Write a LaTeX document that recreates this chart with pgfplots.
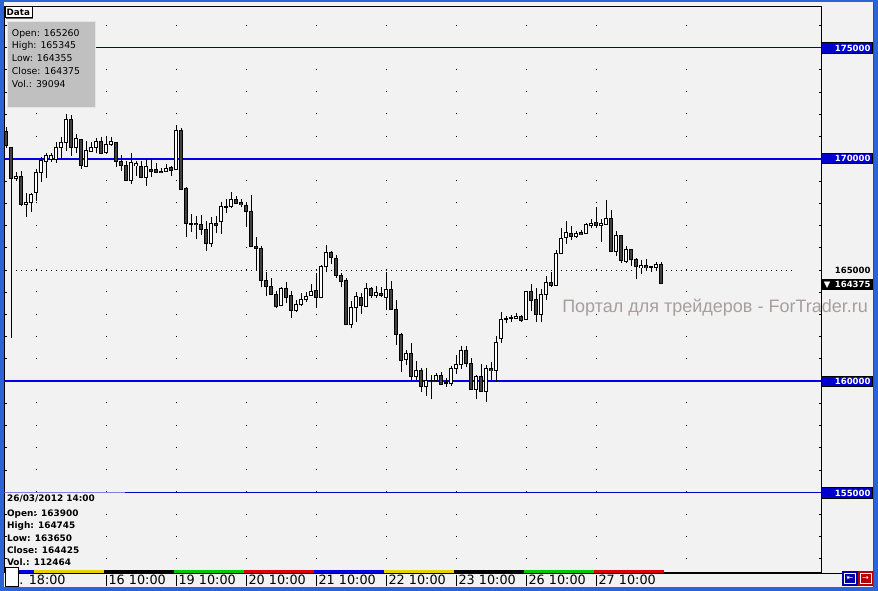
\documentclass[border=0pt]{standalone}
\usepackage{fontspec}
\setmainfont{DejaVu Sans}
\newfontfamily\lib{Liberation Sans}
\usepackage{pgfplots}
\usepackage{pgfplotstable}
\pgfplotsset{compat=1.18}
\definecolor{bg}{HTML}{F2F2F2}
\definecolor{frameblue}{HTML}{2C64D8}
\definecolor{lineblue}{HTML}{0000E6}
\definecolor{thinblue}{HTML}{0000C8}
\definecolor{navy}{HTML}{0000A0}
\definecolor{lightline}{HTML}{8080E0}
\definecolor{boxblue}{HTML}{0000CC}
\definecolor{infogray}{HTML}{C0C0C0}
\definecolor{darkbody}{HTML}{404040}
\definecolor{wm}{HTML}{A89E9E}
\definecolor{dblue}{HTML}{0000E0}
\definecolor{dyellow}{HTML}{E6D200}
\definecolor{dgreen}{HTML}{00C800}
\definecolor{dred}{HTML}{D80000}

\pgfplotstableread{
i O H L C
1 171250 171420 170475 170590
2 170520 170540 161940 169125
3 169105 169410 169015 169230
4 169215 169455 167880 167925
5 167935 168450 167370 168060
6 168045 168450 167595 168405
7 168495 169545 168115 169410
8 169375 170095 168970 169905
9 169890 170250 169150 170160
10 169980 170250 169870 170160
11 169980 170760 169800 170520
12 170520 170980 169980 170745
13 170725 172015 170365 171780
14 171780 171985 170130 170500
15 170500 171115 170250 170925
16 170880 170900 169555 169710
17 169645 170790 169625 170385
18 170320 170745 170300 170520
19 170500 170950 170250 170790
20 170790 170970 170205 170230
21 170275 171040 170220 170665
22 170635 170995 170590 170760
23 170745 170770 169645 169890
24 169890 170175 169465 169690
25 169710 169915 169000 169015
26 169015 170250 168870 169845
27 169690 169915 169240 169800
28 169680 169915 169125 169150
29 169150 170005 168790 169680
30 169545 170005 169185 169455
31 169530 169800 169380 169395
32 169455 169575 169350 169395
33 169420 169770 169410 169575
34 169635 169690 169230 169485
35 169530 171520 169510 171295
36 171295 171385 168610 168630
37 168675 168720 166470 167100
38 167100 167520 166725 167070
39 167115 167430 166380 167040
40 167055 167460 166590 166815
41 166830 167205 165870 166185
42 166185 167395 166050 167100
43 167115 167430 166650 166995
44 167190 168060 166635 167865
45 167835 168195 167575 167880
46 167845 168510 167800 168195
47 168195 168315 167970 167980
48 168015 168195 167820 167935
49 167910 168000 166950 167640
50 167655 168375 166020 166065
51 166080 166470 165000 165975
52 165975 166080 164220 164520
53 164550 164910 163845 164250
54 164280 164625 163875 163905
55 163905 164055 163305 163380
56 163395 164220 163380 164175
57 164175 164445 163530 163755
58 163860 164070 162855 163170
59 163170 163650 163095 163470
60 163455 163950 163380 163695
61 163665 164010 163575 163830
62 163860 164355 163845 164055
63 164100 164850 163305 163770
64 163755 165225 163740 165180
65 165150 166125 164895 165795
66 165810 165870 165270 165555
67 165540 165675 164625 164745
68 164760 164850 164220 164475
69 164550 164655 162520 162540
70 162540 163605 162380 163320
71 163320 163995 162660 163830
72 163770 163950 163020 163395
73 163350 164430 163335 164175
74 164175 164250 163725 163860
75 163860 164280 163755 164010
76 163965 164220 163770 163860
77 163770 164910 163200 164130
78 164130 164505 163215 163230
79 163230 163650 161625 162110
80 162120 162155 160425 160950
81 160975 161400 160725 161265
82 161255 161730 160050 160200
83 160200 160905 160050 160500
84 160500 160580 159525 159750
85 159750 160605 159335 160020
86 160020 160275 159185 160050
87 160020 160380 159975 160275
88 160265 160425 159840 159870
89 159930 160130 159750 159905
90 159905 160695 159780 160580
91 160580 161165 160320 160770
92 160770 161580 160560 161390
93 161390 161580 160650 160805
94 160805 161030 159620 159635
95 159635 160275 159185 160230
96 160230 160770 159510 159525
97 159525 160740 159075 160580
98 160580 160875 160050 160470
99 160470 162030 159975 161750
100 161930 163095 161730 162780
101 162780 162930 162605 162825
102 162810 162975 162675 162855
103 162825 163050 162795 162930
104 162930 162975 162675 162720
105 162780 164055 162770 164040
106 164040 164355 163170 163650
107 163695 164205 162650 163005
108 163005 164130 162650 163905
109 163900 164745 163650 164425
110 164460 164925 164250 164325
111 164325 165900 164280 165750
112 165750 166905 165735 166425
113 166455 167205 166170 166695
114 166635 166980 166350 166500
115 166500 166770 166455 166635
116 166680 166785 166560 166605
117 166650 167100 166635 167040
118 167025 167300 166910 167085
119 167145 167850 166905 166995
120 167010 167280 166245 167100
121 167055 168150 167040 167325
122 167325 167700 165810 165825
123 165825 166770 165630 166560
124 166560 166575 165330 165420
125 165390 166080 165300 165930
126 165930 165945 165180 165480
127 165480 165555 164580 165150
128 165105 165450 164805 165210
129 165210 165480 164970 165105
130 165150 165180 164925 165120
131 165120 165375 165000 165270
132 165260 165345 164355 164375
}\candles

\begin{document}
\begin{tikzpicture}
\begin{scope}[x=0.75pt,y=-0.75pt]
  \fill[frameblue] (0,0) rectangle (878,591);
  \fill[bg] (4,2) rectangle (873,586.5);
\end{scope}
\begin{axis}[
  at={(3.375pt,-429.525pt)}, anchor=south west,
  scale only axis, width=612.9pt, height=425.0pt,
  xmin=0.64, xmax=164.08, ymin=151383.6, ymax=176875.7,
  axis line style={black, line width=0.75pt},
  xtick={7,21,35,49,63,77,91,105,119,137}, xticklabels={},
  xticklabel style={opacity=0},
  xtick style={draw=none},
  ytick distance=1000, yticklabels={},
  scaled y ticks=false,
  yticklabel style={opacity=0},
  tick align=inside, major tick length=2.25pt,
  ytick style={black, line width=0.75pt},
  xmajorgrids=true,
  major grid style={draw=black, line width=0.75pt, dash pattern=on 0.75pt off 15.92pt, dash phase=6.4pt},
  clip=true,
]
% horizontal levels
\addplot[black, line width=0.75pt, dash pattern=on 0.75pt off 3pt, forget plot] coordinates {(2.9,165000) (158,165000)};
\addplot[navy, line width=0.75pt, forget plot] coordinates {(18.7,175000) (164.08,175000)};
\addplot[lineblue, line width=1.6pt, forget plot] coordinates {(0.64,170000) (164.08,170000)};
\addplot[lineblue, line width=1.6pt, forget plot] coordinates {(0.64,160000) (164.08,160000)};
\addplot[lightline, line width=0.75pt, forget plot] coordinates {(0.64,155000) (24.74,155000)};
\addplot[thinblue, line width=0.75pt, forget plot] coordinates {(24.74,155000) (164.08,155000)};
% wicks
\addplot[draw=none, mark=none, forget plot,
  error bars/.cd, y dir=plus, y explicit, error mark=none,
  error bar style={draw=black, line width=0.75pt}]
  table[x=i, y=L, y error plus expr={\thisrow{H}-\thisrow{L}}] {\candles};
% body outlines
\addplot[draw=none, mark=none, forget plot,
  error bars/.cd, y dir=both, y explicit, error mark=none,
  error bar style={draw=black, line width=3pt}]
  table[x=i, y expr={(\thisrow{O}+\thisrow{C})/2}, y error expr={abs(\thisrow{C}-\thisrow{O})/2+22.5}] {\candles};
% bullish fill
\addplot[draw=none, mark=none, forget plot,
  error bars/.cd, y dir=both, y explicit, error mark=none,
  error bar style={draw=white, line width=1.5pt}]
  table[x=i, y expr={(\thisrow{O}+\thisrow{C})/2}, y error expr={max((\thisrow{C}-\thisrow{O})/2-22.5,0)}] {\candles};
% bearish fill
\addplot[draw=none, mark=none, forget plot,
  error bars/.cd, y dir=both, y explicit, error mark=none,
  error bar style={draw=darkbody, line width=1.5pt}]
  table[x=i, y expr={(\thisrow{O}+\thisrow{C})/2}, y error expr={max((\thisrow{O}-\thisrow{C})/2-22.5,0)}] {\candles};
\end{axis}
\begin{scope}[x=0.75pt,y=-0.75pt]
  % Data tab
  \fill[black!60] (6,8) rectangle (33,19);
  \fill[white, draw=black, line width=0.75pt] (5,7) rectangle (32,18);
  \node[anchor=base west, inner sep=0pt, font=\bfseries\fontsize{6.6pt}{7pt}\selectfont] at (6.3,16) {Data};
  % info box
  \fill[infogray, draw=white!90!black, line width=0.75pt] (7,21.5) rectangle (95.5,107.5);
  \begin{scope}[every node/.style={anchor=base west, inner sep=0pt, font=\fontsize{7pt}{8pt}\selectfont}]
    \node at (11.7,36.1) {Open: 165260};
    \node at (11.7,48.6) {High: 165345};
    \node at (11.7,61.7) {Low: 164355};
    \node at (11.7,74.4) {Close: 164375};
    \node at (11.7,87.7) {Vol.: 39094};
  \end{scope}
  % bottom-left info
  \begin{scope}[every node/.style={anchor=base west, inner sep=0pt, font=\bfseries\fontsize{6.7pt}{8pt}\selectfont}]
    \node at (6.8,501.5) {26/03/2012 14:00};
    \node at (6.8,516.5) {Open: 163900};
    \node at (6.8,528.9) {High: 164745};
    \node at (6.8,541.5) {Low: 163650};
    \node at (6.8,553.5) {Close: 164425};
    \node at (6.8,565.5) {Vol.: 112464};
  \end{scope}
  % watermark
  \node[anchor=base west, inner sep=0pt, text=wm, font=\lib\fontsize{13.5pt}{14pt}\selectfont] at (562,312.5) {Портал для трейдеров - ForTrader.ru};
  % day colour bar
  \fill[dblue] (5,570) rectangle (33.8,572.7);
  \fill[dyellow] (33.8,570) rectangle (103.8,572.7);
  \fill[black] (103.8,570) rectangle (173.8,572.7);
  \fill[dgreen] (173.8,570) rectangle (243.8,572.7);
  \fill[dred] (243.8,570) rectangle (313.8,572.7);
  \fill[dblue] (313.8,570) rectangle (383.8,572.7);
  \fill[dyellow] (383.8,570) rectangle (453.8,572.7);
  \fill[black] (453.8,570) rectangle (523.8,572.7);
  \fill[dgreen] (523.8,570) rectangle (593.8,572.7);
  \fill[dred] (593.8,570) rectangle (663.8,572.7);
  \draw[black, line width=0.75pt] (4.5,573) -- (821.7,573);
  % time labels
  \foreach \px/\lab in {106.3/16 10:00, 176.3/19 10:00, 246.3/20 10:00, 316.3/21 10:00, 386.3/22 10:00, 456.3/23 10:00, 526.3/26 10:00, 596.3/27 10:00}{
    \draw[black, line width=0.75pt] (\px,574.5) -- (\px,586);
    \node[anchor=base west, inner sep=0pt, font=\fontsize{9.6pt}{10pt}\selectfont] at (\px+2,584.3) {\lab};
  }
  \node[anchor=base west, inner sep=0pt, font=\fontsize{9.6pt}{10pt}\selectfont] at (19,584.3) {. 18:00};
  \fill[white, draw=black, line width=0.75pt] (5,567.5) rectangle (18.3,586);
  % right panel
  \draw[black, line width=0.75pt] (821.7,6) -- (821.7,573);
  \draw[black!70, line width=0.75pt] (873,2) -- (873,586.5);
  \draw[black, line width=0.75pt] (821.7,573) -- (873,573);
  \begin{scope}[every node/.style={anchor=base east, inner sep=0pt, font=\bfseries\fontsize{6.4pt}{7pt}\selectfont}]
    \foreach \yc/\lab in {48/175000, 158.5/170000, 381.5/160000, 492.8/155000}{
      \fill[boxblue, draw=black, line width=0.75pt] (821.7,\yc-5.3) rectangle (872.7,\yc+5.3);
      \node[text=white] at (870.8,\yc+3.3) {\lab};
    }
    \node[text=black] at (870.8,273.3) {165000};
    \fill[black] (821.7,279.3) rectangle (872.7,290);
    \node[text=white] at (870.8,288) {164375};
    \node[text=white, anchor=base west] at (823.5,288) {▼};
  \end{scope}
  % buttons
  \fill[boxblue!80!black] (842.3,571) rectangle (857.7,586);
  \fill[dred!85!black] (857.7,571) rectangle (873,586);
  \draw[white, line width=0.75pt] (844.5,573.5) rectangle (855.5,583.5);
  \draw[white, line width=0.75pt] (860,573.5) rectangle (871,583.5);
  \node[text=white, inner sep=0pt, font=\fontsize{6pt}{6pt}\selectfont] at (850,578.5) {⇤};
  \node[text=white, inner sep=0pt, font=\fontsize{6pt}{6pt}\selectfont] at (865.5,578.5) {→};
\end{scope}
\pgfresetboundingbox
\path[use as bounding box] (0,0) rectangle (658.5pt,-443.25pt);
\end{tikzpicture}
\end{document}
